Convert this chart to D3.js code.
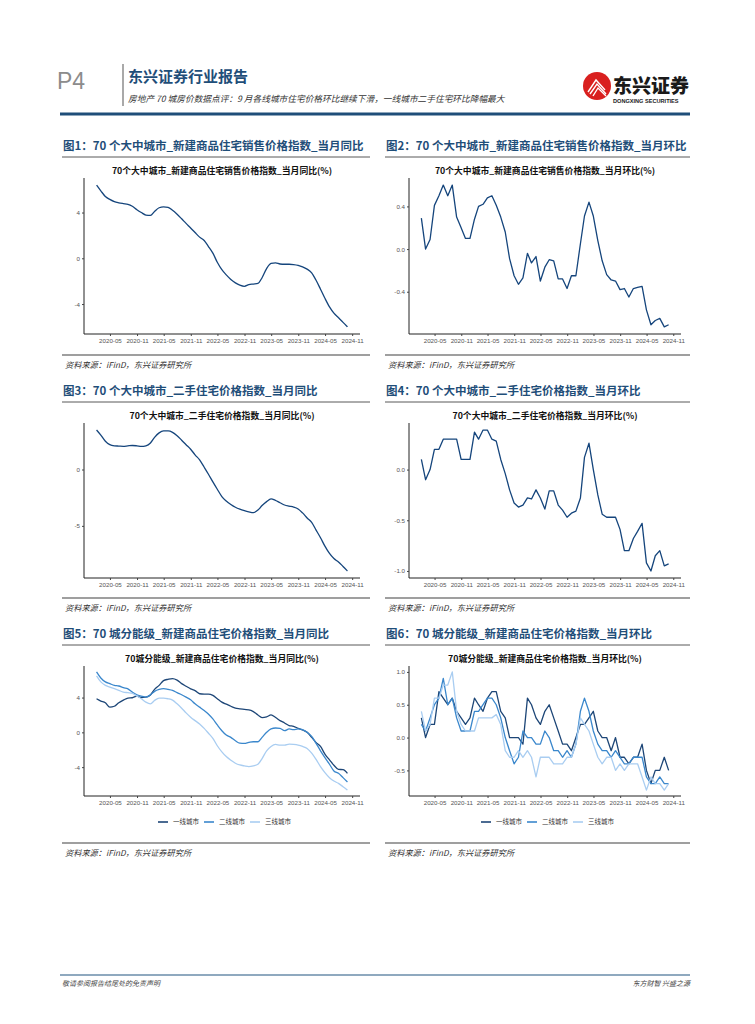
<!DOCTYPE html>
<html>
<head>
<meta charset="utf-8">
<script src="https://cdn.jsdelivr.net/npm/d3@7"></script>
<style>
body { margin: 0; background: #fff; }
svg { display: block; font-family: "Noto Sans CJK SC", "Noto Sans", sans-serif; }
</style>
</head>
<body>
<svg id="page"></svg>
<script>
// months run 2020-01 .. 2024-09, plotted at month end
var firstMonth = "2020-01", lastMonth = "2024-09";
var xTickLabels = ["2020-05", "2020-11", "2021-05", "2021-11", "2022-05", "2022-11", "2023-05", "2023-11", "2024-05", "2024-11"];
var tierNames = ["一线城市", "二线城市", "三线城市"];

// 图1 新建商品住宅 当月同比
var newYoY = [6.4, 5.9, 5.4, 5.15, 4.95, 4.85, 4.78, 4.72, 4.55, 4.25, 4.0, 3.78,
	3.75, 4.1, 4.42, 4.5, 4.45, 4.2, 3.85, 3.45, 3.05, 2.65, 2.25, 1.85,
	1.55, 1.05, 0.45, -0.35, -1.0, -1.45, -1.85, -2.15, -2.35, -2.45, -2.3, -2.25,
	-2.2, -1.7, -0.9, -0.45, -0.4, -0.5, -0.52, -0.52, -0.55, -0.62, -0.75, -0.95,
	-1.27, -1.9, -2.7, -3.5, -4.25, -4.8, -5.2, -5.6, -6.0];
// 图2 新建商品住宅 当月环比
var newMoM = [0.29, 0.0, 0.09, 0.41, 0.5, 0.6, 0.5, 0.6, 0.3, 0.2, 0.1, 0.1,
	0.28, 0.4, 0.42, 0.48, 0.5, 0.41, 0.3, 0.16, -0.09, -0.25, -0.33, -0.27,
	-0.04, -0.13, -0.07, -0.3, -0.17, -0.1, -0.11, -0.28, -0.28, -0.37, -0.25, -0.25,
	0.05, 0.31, 0.44, 0.31, 0.08, -0.11, -0.24, -0.29, -0.3, -0.38, -0.37, -0.45,
	-0.37, -0.36, -0.35, -0.57, -0.71, -0.67, -0.65, -0.73, -0.71];
// 图3 二手住宅 当月同比
var usedYoY = [3.5, 3.05, 2.5, 2.2, 2.1, 2.08, 2.06, 2.1, 2.13, 2.1, 2.05, 2.1,
	2.35, 2.85, 3.25, 3.42, 3.42, 3.3, 3.0, 2.6, 2.2, 1.8, 1.3, 0.85,
	0.2, -0.4, -1.1, -1.75, -2.4, -2.8, -3.1, -3.35, -3.52, -3.65, -3.75, -3.82,
	-3.6, -3.2, -2.85, -2.6, -2.75, -2.95, -3.15, -3.25, -3.33, -3.5, -3.85, -4.3,
	-4.7, -5.35, -6.05, -6.8, -7.45, -7.9, -8.2, -8.6, -9.0];
// 图4 二手住宅 当月环比
var usedMoM = [0.1, -0.1, 0.0, 0.2, 0.2, 0.3, 0.3, 0.3, 0.3, 0.1, 0.1, 0.1,
	0.37, 0.3, 0.39, 0.39, 0.3, 0.28, 0.1, -0.04, -0.2, -0.33, -0.37, -0.35,
	-0.28, -0.29, -0.2, -0.28, -0.39, -0.21, -0.21, -0.35, -0.4, -0.47, -0.43, -0.41,
	-0.28, 0.12, 0.26, 0.0, -0.25, -0.44, -0.47, -0.47, -0.47, -0.59, -0.8, -0.8,
	-0.68, -0.61, -0.53, -0.92, -1.0, -0.85, -0.8, -0.95, -0.93];
// 图5 分能级 当月同比
var tier1YoY = [3.86, 3.6, 3.4, 2.9, 3.0, 3.4, 3.7, 3.94, 3.98, 4.17, 4.0, 4.05,
	4.3, 4.94, 5.4, 5.95, 6.1, 6.18, 6.0, 5.6, 5.3, 5.0, 4.8, 4.44,
	4.4, 4.4, 4.25, 3.86, 3.47, 3.24, 3.0, 2.78, 2.7, 2.63, 2.59, 2.39,
	2.0, 1.7, 1.78, 2.0, 1.7, 1.35, 1.08, 0.77, 0.7, 0.46, 0.27, 0.0,
	-0.58, -1.16, -1.62, -2.5, -3.17, -3.78, -4.25, -4.29, -4.71];
var tier2YoY = [6.95, 6.25, 5.8, 5.6, 5.4, 5.33, 5.13, 5.0, 4.63, 4.32, 4.17, 4.05,
	4.32, 4.71, 4.94, 5.02, 4.94, 4.83, 4.56, 4.32, 4.05, 3.75, 3.28, 2.9,
	2.51, 2.12, 1.54, 0.85, 0.19, -0.31, -0.58, -0.97, -1.24, -1.27, -1.16, -1.08,
	-1.08, -0.58, 0.0, 0.39, 0.5, 0.46, 0.19, 0.39, 0.31, 0.39, 0.31, 0.0,
	-0.46, -1.24, -2.12, -2.9, -3.67, -4.44, -4.71, -5.21, -5.71];
var tier3YoY = [6.49, 5.8, 5.4, 5.21, 5.02, 4.83, 4.63, 4.56, 4.48, 4.17, 3.86, 3.47,
	3.28, 3.67, 3.94, 3.94, 3.86, 3.71, 3.28, 2.78, 2.24, 1.74, 1.35, 0.97,
	0.46, -0.08, -0.69, -1.54, -2.24, -2.78, -3.2, -3.55, -3.75, -3.86, -3.94, -3.86,
	-3.67, -3.01, -2.12, -1.62, -1.39, -1.47, -1.47, -1.35, -1.39, -1.47, -1.62, -1.85,
	-2.39, -3.09, -3.94, -4.63, -5.21, -5.6, -5.87, -6.25, -6.64];
// 图6 分能级 当月环比
var tier1MoM = [0.3, 0.0, 0.2, 0.2, 0.7, 0.6, 0.5, 0.6, 0.4, 0.3, 0.2, 0.3,
	0.6, 0.5, 0.4, 0.6, 0.7, 0.7, 0.4, 0.3, 0.0, 0.0, 0.0, -0.1,
	0.6, 0.5, 0.3, 0.2, 0.4, 0.5, 0.3, 0.1, -0.1, -0.1, -0.2, 0.0,
	0.2, 0.2, 0.3, 0.4, 0.1, 0.0, 0.0, -0.2, 0.0, -0.3, -0.3, -0.4,
	-0.3, -0.3, -0.1, -0.5, -0.7, -0.5, -0.5, -0.3, -0.5];
var tier2MoM = [0.2, 0.1, 0.3, 0.5, 0.6, 0.9, 0.5, 0.6, 0.3, 0.1, 0.1, 0.1,
	0.4, 0.4, 0.5, 0.6, 0.6, 0.5, 0.3, 0.0, -0.2, -0.4, -0.3, 0.1,
	0.0, 0.0, -0.1, -0.1, 0.1, 0.0, -0.2, -0.2, -0.3, -0.2, -0.3, -0.1,
	0.4, 0.6, 0.4, 0.1, -0.1, -0.2, -0.2, -0.3, -0.2, -0.3, -0.4, -0.4,
	-0.3, -0.3, -0.3, -0.6, -0.7, -0.7, -0.6, -0.7, -0.7];
var tier3MoM = [0.4, 0.1, 0.2, 0.6, 0.6, 0.8, 0.8, 1.0, 0.4, 0.2, 0.1, 0.1,
	0.1, 0.3, 0.3, 0.3, 0.3, 0.35, 0.2, -0.2, -0.3, -0.3, -0.2, -0.3,
	-0.2, -0.3, -0.6, -0.3, -0.3, -0.3, -0.4, -0.4, -0.4, -0.3, -0.3, -0.1,
	0.3, 0.2, 0.1, -0.1, -0.3, -0.4, -0.3, -0.3, -0.5, -0.4, -0.5, -0.4,
	-0.4, -0.4, -0.6, -0.8, -0.6, -0.7, -0.7, -0.8, -0.7];

var W = 755, H = 1024;
var svg = d3.select("#page").attr("width", W).attr("height", H);
svg.append("rect").attr("width", W).attr("height", H).attr("fill", "#fff");

var parseMonth = d3.timeParse("%Y-%m");
var dates = d3.timeMonth.range(parseMonth(firstMonth), d3.timeMonth.offset(parseMonth(lastMonth), 1))
	.map((m) => d3.timeDay.offset(d3.timeMonth.offset(m, 1), -1));
var xTicks = xTickLabels.map(parseMonth);

var blue = "#1f4e79", navy = "#15457c";
var tierColors = ["#1d4677", "#3a87cc", "#a9cdf1"];

// ---------- page header ----------
svg.append("text").attr("x", 57).attr("y", 89).attr("font-size", 23).attr("fill", "#8c8c8c")
	.attr("font-family", "Liberation Sans, sans-serif").text("P4");
svg.append("line").attr("x1", 123).attr("x2", 123).attr("y1", 64).attr("y2", 106)
	.attr("stroke", "#8c8c8c").attr("stroke-width", 1.5);
svg.append("text").attr("x", 128).attr("y", 82).attr("font-size", 15).attr("font-weight", 700)
	.attr("fill", blue).text("东兴证券行业报告");
svg.append("text").attr("x", 128).attr("y", 102).attr("font-size", 8.7).attr("font-style", "italic")
	.attr("fill", "#333").text("房地产 70 城房价数据点评：9 月各线城市住宅价格环比继续下滑，一线城市二手住宅环比降幅最大");

// logo
var logo = svg.append("g").attr("transform", "translate(597,86)");
logo.append("circle").attr("r", 14).attr("fill", "#d9201f");
[[-9, 6, -1, -6, 8, 4], [-7, 8, 0, -2, 9, 8], [-4, 10, 1, 2, 9, 10]].forEach((p) =>
	logo.append("path").attr("d", `M${p[0]},${p[1]}L${p[2]},${p[3]}L${p[4]},${p[5]}`)
		.attr("fill", "none").attr("stroke", "#fff").attr("stroke-width", 1.4)
);
svg.append("text").attr("x", 613).attr("y", 93).attr("font-size", 19).attr("font-weight", 900)
	.attr("fill", "#1a1a1a").text("东兴证券");
svg.append("text").attr("x", 613).attr("y", 103).attr("font-size", 5.6).attr("font-weight", 700)
	.attr("fill", "#1a1a1a").attr("font-family", "Liberation Sans, sans-serif").text("DONGXING SECURITIES");

svg.append("line").attr("x1", 60).attr("x2", 690).attr("y1", 114).attr("y2", 114)
	.attr("stroke", blue).attr("stroke-width", 3);

// ---------- footer ----------
svg.append("line").attr("x1", 60).attr("x2", 690).attr("y1", 975).attr("y2", 975)
	.attr("stroke", "#8fa9bf").attr("stroke-width", 2);
svg.append("text").attr("x", 62).attr("y", 986).attr("font-size", 7).attr("font-style", "italic")
	.attr("fill", "#444").text("敬请参阅报告结尾处的免责声明");
svg.append("text").attr("x", 690).attr("y", 986).attr("font-size", 7).attr("font-style", "italic")
	.attr("text-anchor", "end").attr("fill", "#444").text("东方财智 兴盛之源");

// ---------- one chart block ----------
function block(o) {
	var g = svg.append("g");
	var x0 = o.col ? 385 : 62, x1 = o.col ? 690 : 370;

	g.append("text").attr("x", x0 + 1).attr("y", o.top + 14).attr("font-size", 11.5).attr("font-weight", 700)
		.attr("fill", blue).text(o.title);
	g.append("line").attr("x1", x0).attr("x2", x1).attr("y1", o.top + 21).attr("y2", o.top + 21)
		.attr("stroke", "#595959").attr("stroke-width", 1);

	var px = o.col ? [409, 681] : [84, 360];
	var py = [o.top + 42, o.bottom];

	var xd = d3.extent(dates), span = xd[1] - xd[0];
	var x = d3.scaleTime().domain([new Date(+xd[0] - span * 0.05), new Date(+xd[1] + span * 0.05)]).range(px);
	var all = o.series.flat();
	var yd = d3.extent(all), ys = yd[1] - yd[0];
	var y = d3.scaleLinear().domain([yd[0] - ys * 0.05, yd[1] + ys * 0.05]).range([py[1], py[0]]);

	g.append("text").attr("x", (px[0] + px[1]) / 2).attr("y", o.top + 38).attr("text-anchor", "middle")
		.attr("font-size", 8.8).attr("font-weight", 700).attr("fill", "#111").text(o.inner);

	var yAxis = g.append("g").attr("transform", `translate(${px[0]},0)`)
		.call(d3.axisLeft(y).tickValues(o.yTicks).tickFormat((d, i) => o.yLabels[i]).tickSize(2).tickPadding(2));
	var xAxis = g.append("g").attr("transform", `translate(0,${py[1]})`)
		.call(d3.axisBottom(x).tickValues(xTicks).tickFormat((d, i) => xTickLabels[i]).tickSize(2).tickPadding(2.5));
	[yAxis, xAxis].forEach((a) => {
		a.select(".domain").attr("stroke", "#222").attr("stroke-width", 1);
		a.selectAll(".tick line").attr("stroke", "#444");
		a.selectAll(".tick text").attr("fill", "#555").attr("font-size", 6.2)
			.attr("font-family", "Liberation Sans, sans-serif");
	});
	yAxis.select(".domain").attr("d", `M0,${py[1]}V${py[0]}`);
	xAxis.select(".domain").attr("d", `M${px[0]},0H${px[1]}`);

	var line = d3.line().x((d, i) => x(dates[i])).y((d) => y(d))
		.curve(o.smooth ? d3.curveMonotoneX : d3.curveLinear);
	o.series.forEach((s, k) =>
		g.append("path").datum(s).attr("d", line).attr("fill", "none")
			.attr("stroke", o.colors[k]).attr("stroke-width", 1.3).attr("stroke-linejoin", "round")
	);

	if (o.legend) {
		var lx = (px[0] + px[1]) / 2 - 64, ly = o.legendY;
		tierNames.forEach((n, k) => {
			var ox = lx + k * 46;
			g.append("line").attr("x1", ox).attr("x2", ox + 10).attr("y1", ly).attr("y2", ly)
				.attr("stroke", o.colors[k]).attr("stroke-width", 1.6);
			g.append("text").attr("x", ox + 15).attr("y", ly + 2.2).attr("font-size", 6.5)
				.attr("fill", "#333").text(n);
		});
	}

	g.append("line").attr("x1", x0).attr("x2", x1).attr("y1", o.rule).attr("y2", o.rule)
		.attr("stroke", "#7f7f7f").attr("stroke-width", 1.5);
	g.append("text").attr("x", x0 + 3).attr("y", o.rule + 13).attr("font-size", 8.2).attr("font-style", "italic")
		.attr("fill", "#333").text("资料来源：iFinD，东兴证券研究所");
}

block({ col: 0, top: 136, bottom: 334, rule: 355, smooth: true, title: "图1：70 个大中城市_新建商品住宅销售价格指数_当月同比",
	inner: "70个大中城市_新建商品住宅销售价格指数_当月同比(%)", series: [newYoY], colors: [navy],
	yTicks: [-4, 0, 4], yLabels: ["-4", "0", "4"] });
block({ col: 1, top: 136, bottom: 334, rule: 355, title: "图2：70 个大中城市_新建商品住宅销售价格指数_当月环比",
	inner: "70个大中城市_新建商品住宅销售价格指数_当月环比(%)", series: [newMoM], colors: [navy],
	yTicks: [-0.4, 0, 0.4], yLabels: ["-0.4", "0.0", "0.4"] });
block({ col: 0, top: 381, bottom: 578, rule: 598, smooth: true, title: "图3：70 个大中城市_二手住宅价格指数_当月同比",
	inner: "70个大中城市_二手住宅价格指数_当月同比(%)", series: [usedYoY], colors: [navy],
	yTicks: [-5, 0], yLabels: ["-5", "0"] });
block({ col: 1, top: 381, bottom: 578, rule: 598, title: "图4：70 个大中城市_二手住宅价格指数_当月环比",
	inner: "70个大中城市_二手住宅价格指数_当月环比(%)", series: [usedMoM], colors: [navy],
	yTicks: [-1, -0.5, 0], yLabels: ["-1.0", "-0.5", "0.0"] });
block({ col: 0, top: 624, bottom: 796, rule: 843, smooth: true, legend: true, legendY: 822,
	title: "图5：70 城分能级_新建商品住宅价格指数_当月同比",
	inner: "70城分能级_新建商品住宅价格指数_当月同比(%)", series: [tier1YoY, tier2YoY, tier3YoY], colors: tierColors,
	yTicks: [-4, 0, 4], yLabels: ["-4", "0", "4"] });
block({ col: 1, top: 624, bottom: 796, rule: 843, legend: true, legendY: 822,
	title: "图6：70 城分能级_新建商品住宅价格指数_当月环比",
	inner: "70城分能级_新建商品住宅价格指数_当月环比(%)", series: [tier1MoM, tier2MoM, tier3MoM], colors: tierColors,
	yTicks: [-0.5, 0, 0.5, 1], yLabels: ["-0.5", "0.0", "0.5", "1.0"] });
</script>
</body>
</html>
